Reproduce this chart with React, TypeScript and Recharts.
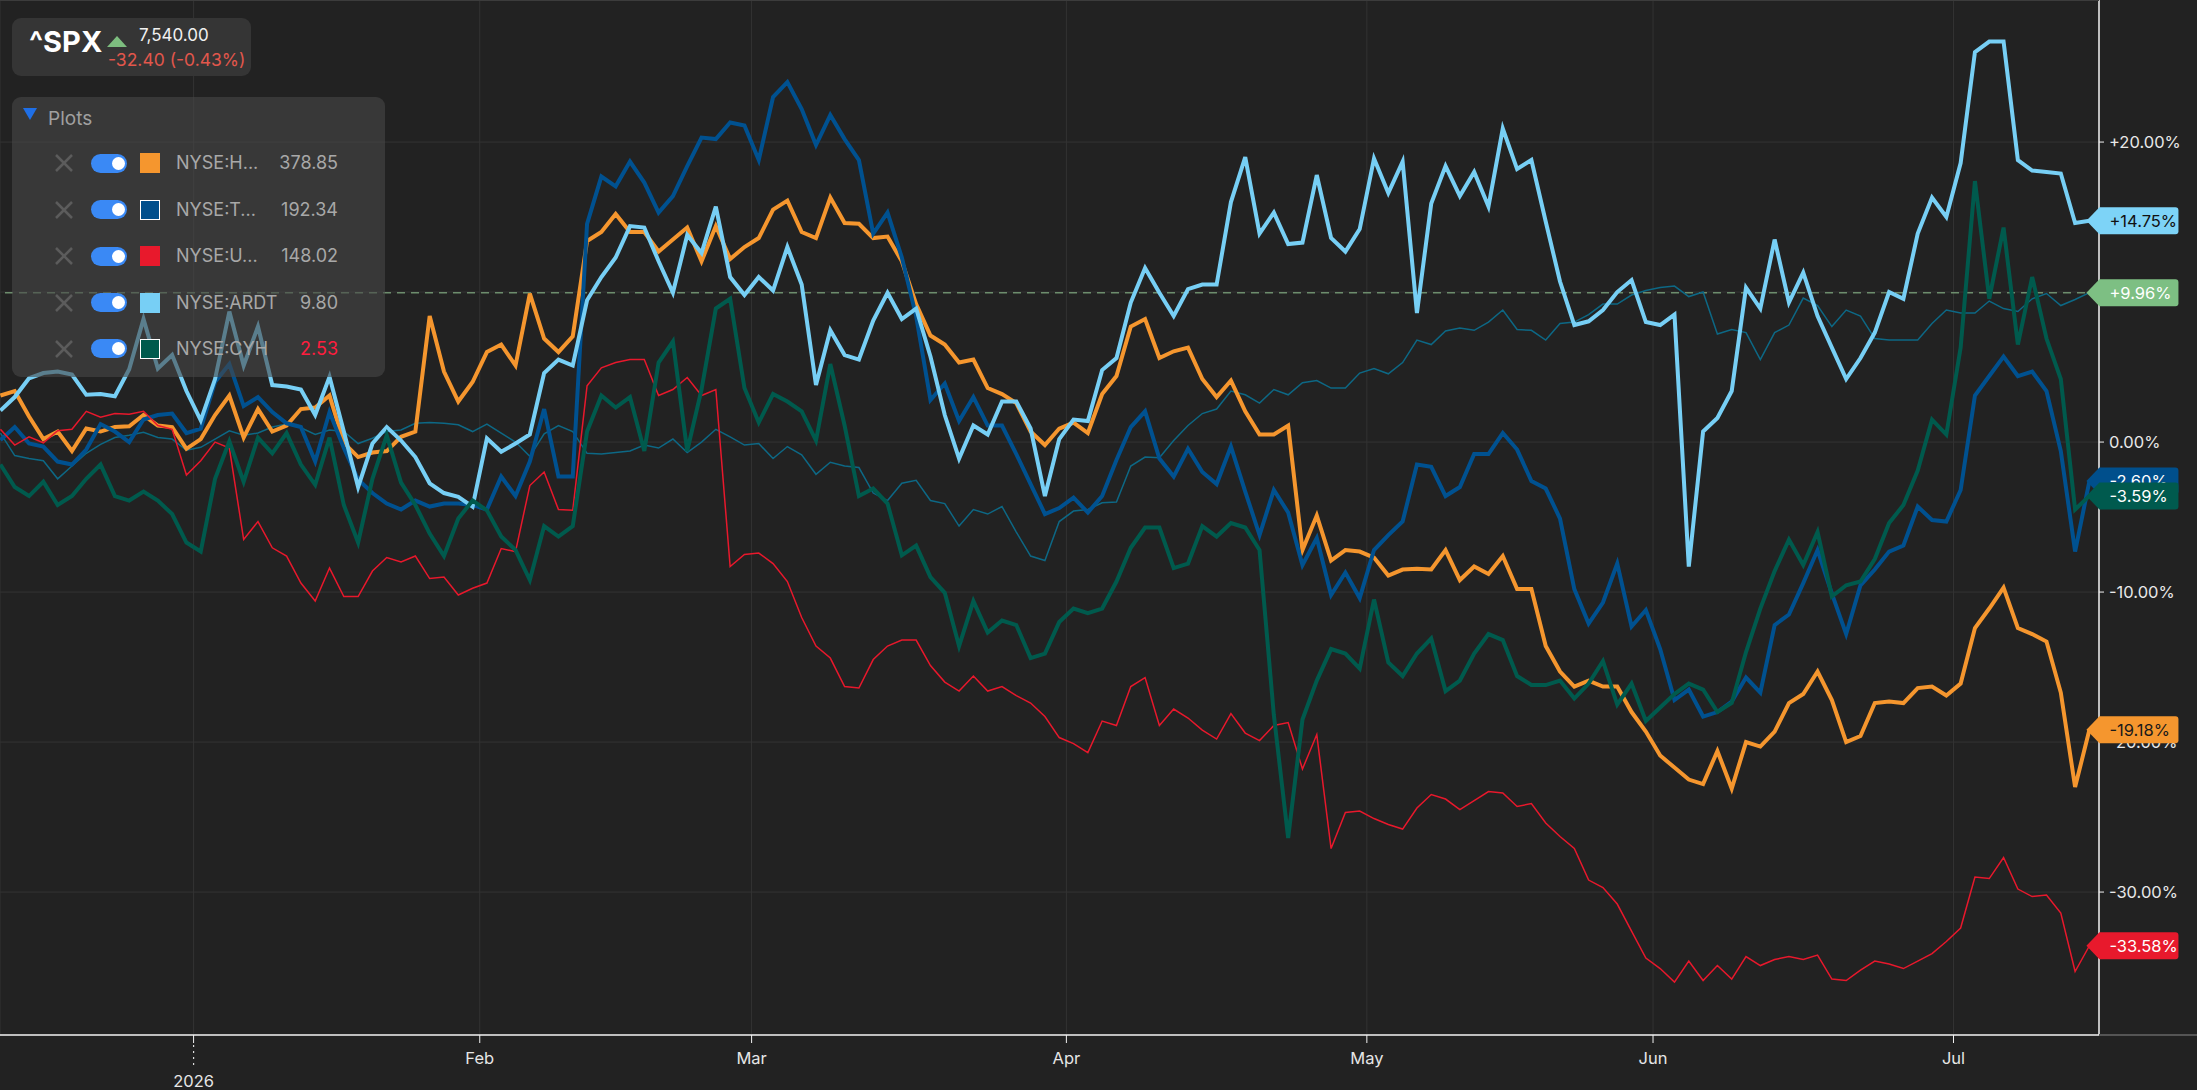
import React from "react";
import {
  LineChart,
  Line,
  XAxis,
  YAxis,
  CartesianGrid,
  ReferenceLine,
  LabelList,
} from "recharts";

const FONT = "Inter, 'Noto Sans', sans-serif";
const W = 2197;
const H = 1090;

// trading sessions shown on the chart
const DEC_2025 = [11, 12, 15, 16, 17, 18, 19, 22, 23, 24, 26, 29, 30, 31];
const JAN_2026 = [2, 5, 6, 7, 8, 9, 12, 13, 14, 15, 16, 20, 21, 22, 23, 26, 27, 28, 29, 30];
const FEB_2026 = [2, 3, 4, 5, 6, 9, 10, 11, 12, 13, 17, 18, 19, 20, 23, 24, 25, 26, 27];
const MAR_2026 = [2, 3, 4, 5, 6, 9, 10, 11, 12, 13, 16, 17, 18, 19, 20, 23, 24, 25, 26, 27, 30, 31];
const APR_2026 = [1, 2, 6, 7, 8, 9, 10, 13, 14, 15, 16, 17, 20, 21, 22, 23, 24, 27, 28, 29, 30];
const MAY_2026 = [1, 4, 5, 6, 7, 8, 11, 12, 13, 14, 15, 18, 19, 20, 21, 22, 26, 27, 28, 29];
const JUN_2026 = [1, 2, 3, 4, 5, 8, 9, 10, 11, 12, 15, 16, 17, 18, 22, 23, 24, 25, 26, 29, 30];
const JUL_2026 = [1, 2, 6, 7, 8, 9, 10, 13, 14, 15];

const MONTH_LABELS = ["2026", "Feb", "Mar", "Apr", "May", "Jun", "Jul"];
const Y_TICKS = [-30, -20, -10, 0, 10, 20];

// % change series
const HUM = [
  3.1, 3.4, 1.7, 0.2, 0.7, -0.6, 0.9, 0.7, 1.0, 1.05, 1.8, 1.1, 1.0, -0.45,
  0.2, 1.8, 3.1, 0.3, 2.2, 0.7, 1.1, 2.2, 2.3, 3.1,
  -0.05, -1.0, -0.7, -0.6, 0.35, 0.7, 8.4, 4.7, 2.7, 4.0,
  6.0, 6.5, 5.1, 9.9, 6.9, 6.0, 7.05, 13.4, 14.0, 15.2,
  14.0, 14.0, 12.7, 13.5, 14.3, 12.05, 14.4, 12.2, 13.0, 13.6,
  15.5, 16.1, 14.0, 13.6, 16.3, 14.6, 14.55, 13.6, 13.7, 12.05,
  9.2, 7.1, 6.5, 5.3, 5.5, 3.6, 3.2, 2.6, 0.7, -0.2,
  0.9, 1.3, 0.6, 3.2, 4.4, 7.7, 8.2, 5.6, 6.05, 6.3,
  4.2, 3.0, 4.1, 2.05, 0.5, 0.5, 1.1, -7.2, -4.9, -7.9,
  -7.2, -7.3, -7.7, -8.9, -8.5, -8.45, -8.5, -7.2, -9.2, -8.3,
  -8.8, -7.6, -9.8, -9.8, -13.6, -15.3, -16.3, -15.9, -16.3, -16.3,
  -18.0, -19.3, -20.9, -21.7, -22.5, -22.8, -20.6, -23.1, -20.0, -20.3,
  -19.3, -17.4, -16.8, -15.3, -17.2, -20.0, -19.6, -17.4, -17.3, -17.4,
  -16.4, -16.3, -16.9, -16.1, -12.4, -11.1, -9.7, -12.4, -12.8, -13.3,
  -16.7, -23.0, -19.18,
];

const TKR = [
  0.13, 1.0, -0.1, -0.3, -1.3, -1.5, -0.5, 1.2, 0.7, 0.0, 1.5, 1.8, 1.9, 0.6,
  0.9, 4.0, 5.2, 2.4, 3.0, 2.0, 1.25, 1.0, -1.3, 2.0,
  -0.4, -2.5, -3.4, -4.1, -4.5, -3.9, -4.3, -4.1, -4.1, -4.2,
  -4.5, -2.3, -3.6, -1.3, 2.2, -2.3, -2.3, 14.55, 17.7, 17.05,
  18.7, 17.3, 15.3, 16.4, 18.4, 20.3, 20.2, 21.3, 21.1, 18.8,
  23.0, 24.0, 22.2, 19.8, 21.8, 20.2, 18.8, 13.9, 15.3, 12.3,
  8.4, 2.8, 3.9, 1.4, 3.0, 1.1, 1.1, -0.8, -2.8, -4.8,
  -4.4, -3.7, -4.7, -3.6, -1.2, 1.0, 2.05, -1.1, -2.3, -0.45,
  -2.0, -2.8, -0.3, -3.3, -6.2, -3.2, -4.7, -8.2, -6.4, -10.2,
  -8.7, -10.4, -7.2, -6.2, -5.3, -1.5, -1.65, -3.6, -3.0, -0.8,
  -0.8, 0.6, -0.5, -2.6, -3.1, -5.1, -9.8, -12.1, -10.7, -8.1,
  -12.3, -11.2, -13.8, -17.2, -16.5, -18.3, -18.0, -17.3, -15.7, -16.7,
  -12.2, -11.5, -9.4, -7.2, -10.1, -12.8, -9.55, -8.5, -7.3, -6.9,
  -4.3, -5.2, -5.3, -3.2, 3.1, 4.4, 5.7, 4.4, 4.7, 3.4,
  -0.6, -7.3, -2.6,
];

const UNH = [
  0.85, -0.2, 0.35, -0.05, 0.75, 0.85, 2.05, 1.65, 1.9, 1.85, 2.05, 1.1, 0.85, -2.2,
  -1.25, 0.0, -0.4, -6.5, -5.3, -7.05, -7.6, -9.4, -10.6, -8.4,
  -10.3, -10.3, -8.6, -7.7, -8.0, -7.6, -9.1, -9.0, -10.2, -9.75,
  -9.4, -7.1, -7.3, -2.9, -2.0, -4.5, -4.55, 3.75, 4.95, 5.3,
  5.5, 5.5, 3.1, 3.5, 4.3, 3.1, 3.5, -8.3, -7.5, -7.4,
  -8.1, -9.3, -11.7, -13.6, -14.4, -16.3, -16.4, -14.5, -13.6, -13.2,
  -13.2, -14.9, -16.0, -16.6, -15.6, -16.6, -16.3, -16.9, -17.4, -18.3,
  -19.7, -20.1, -20.7, -18.6, -18.9, -16.3, -15.7, -18.9, -17.8, -18.4,
  -19.2, -19.8, -18.1, -19.4, -19.9, -18.9, -18.7, -21.8, -19.5, -27.1,
  -24.7, -24.6, -25.1, -25.5, -25.8, -24.4, -23.5, -23.8, -24.5, -23.9,
  -23.3, -23.4, -24.3, -24.1, -25.4, -26.3, -27.1, -29.2, -29.7, -30.8,
  -32.6, -34.4, -35.1, -36.0, -34.6, -35.9, -34.9, -35.8, -34.3, -34.9,
  -34.5, -34.3, -34.5, -34.2, -35.8, -35.9, -35.2, -34.6, -34.8, -35.1,
  -34.6, -34.1, -33.3, -32.4, -29.0, -29.1, -27.7, -29.8, -30.3, -30.2,
  -31.4, -35.3, -33.58,
];

const ARDT = [
  2.1, 3.0, 4.25, 4.6, 4.7, 4.5, 3.15, 3.2, 3.05, 4.85, 8.2, 4.9, 5.8, 3.4,
  1.45, 4.2, 8.7, 5.1, 7.7, 3.8, 3.7, 3.5, 1.8, 4.35,
  0.7, -3.0, -0.1, 1.0, 0.1, -1.0, -2.75, -3.4, -3.65, -4.3,
  0.25, -0.65, -0.1, 0.5, 4.6, 5.5, 5.1, 9.45, 11.0, 12.3,
  14.4, 14.3, 12.05, 9.95, 13.8, 12.6, 15.7, 11.0, 9.8, 11.0,
  10.1, 13.0, 10.5, 3.8, 7.45, 5.8, 5.5, 8.1, 9.95, 8.2,
  8.9, 5.7, 1.8, -1.1, 1.1, 0.5, 2.7, 2.7, 0.9, -3.6,
  0.2, 1.5, 1.4, 4.8, 5.6, 9.3, 11.6, 9.95, 8.4, 10.2,
  10.5, 10.5, 16.0, 19.0, 13.9, 15.3, 13.2, 13.3, 17.8, 13.6,
  12.7, 14.2, 18.9, 16.6, 18.7, 8.6, 15.9, 18.4, 16.4, 18.0,
  15.7, 20.9, 18.2, 18.8, 14.7, 10.7, 7.8, 8.05, 8.8, 10.0,
  10.8, 8.0, 7.8, 8.5, -8.3, 0.7, 1.6, 3.4, 10.3, 8.9,
  13.5, 9.3, 11.3, 8.4, 6.3, 4.2, 5.6, 7.3, 10.0, 9.55,
  13.9, 16.3, 15.0, 18.6, 26.0, 26.7, 26.7, 18.8, 18.1, 18.0,
  17.9, 14.6, 14.75,
];

const CYH = [
  -1.5, -3.0, -3.6, -2.65, -4.2, -3.6, -2.45, -1.5, -3.6, -3.9, -3.3, -3.9, -4.8, -6.7,
  -7.3, -2.45, 0.05, -2.65, 0.3, -0.75, 0.6, -1.5, -2.85, 0.3,
  -4.2, -6.7, -2.45, 0.45, -2.7, -4.2, -6.1, -7.6, -5.1, -3.9,
  -4.55, -6.3, -7.2, -9.2, -5.6, -6.3, -5.6, 0.7, 3.1, 2.3,
  3.0, -0.6, 5.3, 6.7, -0.6, 3.5, 8.9, 9.55, 3.6, 1.3,
  3.2, 2.7, 2.05, 0.1, 5.2, 1.1, -3.6, -3.1, -4.1, -7.55,
  -6.9, -9.0, -10.05, -13.6, -10.6, -12.7, -11.9, -12.2, -14.4, -14.1,
  -12.0, -11.1, -11.4, -11.1, -9.3, -7.05, -5.7, -5.7, -8.4, -8.1,
  -5.6, -6.3, -5.4, -5.7, -7.2, -18.2, -26.4, -18.5, -15.9, -13.8,
  -14.1, -15.1, -10.5, -14.7, -15.6, -14.1, -13.1, -16.6, -15.9, -14.1,
  -12.8, -13.2, -15.6, -16.2, -16.2, -15.9, -17.1, -16.1, -14.6, -17.5,
  -16.1, -18.6, -17.7, -16.8, -16.1, -16.5, -18.0, -17.4, -14.0, -11.1,
  -8.6, -6.5, -8.2, -6.0, -10.3, -9.55, -9.3, -7.8, -5.4, -4.2,
  -1.9, 1.5, 0.5, 6.3, 17.4, 9.55, 14.3, 6.5, 11.0, 6.9,
  4.2, -4.5, -3.59,
];

const SPX = [
  0.6, -0.9, -1.1, -1.25, -2.45, -1.6, -0.75, -0.15, 0.3, 0.45, 0.65, 0.3, 0.2, -0.55,
  -0.35, 0.2, 0.75, 0.45, 0.6, 1.0, 1.2, 0.95, 0.5, 0.8,
  0.7, -0.1, 0.25, 0.7, 0.8, 1.25, 1.3, 1.25, 1.15, 0.7,
  1.2, 0.6, 0.0, -0.95, 0.55, 1.1, 0.7, -0.75, -0.8, -0.7,
  -0.6, -0.2, -0.4, 0.2, -0.7, 0.0, 0.85, 0.35, -0.2, -0.1,
  -1.1, -0.3, -0.85, -2.15, -1.35, -1.6, -1.7, -3.4, -3.9, -2.75,
  -2.55, -3.9, -4.1, -5.6, -4.5, -4.8, -4.3, -6.0, -7.6, -7.9,
  -5.3, -4.6, -4.5, -4.05, -4.0, -1.6, -1.0, -1.05, 0.1, 1.1,
  1.9, 2.2, 3.4, 3.15, 2.6, 3.5, 3.15, 3.95, 4.1, 3.6,
  3.6, 4.6, 4.9, 4.55, 5.3, 6.8, 6.5, 7.4, 7.6, 7.45,
  8.0, 8.8, 7.5, 7.45, 6.8, 7.9, 8.0, 8.5, 9.2, 9.2,
  9.8, 10.1, 10.3, 10.4, 9.7, 10.0, 7.2, 7.5, 7.3, 5.5,
  7.3, 7.8, 9.6, 9.1, 7.7, 8.8, 8.4, 6.9, 6.8, 6.8,
  6.8, 7.9, 8.8, 8.6, 8.6, 9.4, 8.9, 8.7, 9.55, 9.9,
  9.1, 9.5, 9.96,
];

const SESSIONS: [string, number[]][] = [
  ["2025-12", DEC_2025],
  ["2026-01", JAN_2026],
  ["2026-02", FEB_2026],
  ["2026-03", MAR_2026],
  ["2026-04", APR_2026],
  ["2026-05", MAY_2026],
  ["2026-06", JUN_2026],
  ["2026-07", JUL_2026],
];

const DATES = SESSIONS.flatMap(([ym, days]) =>
  days.map((d) => `${ym}-${String(d).padStart(2, "0")}`)
);

const data = DATES.map((date, i) => ({
  i,
  date,
  hum: HUM[i],
  tkr: TKR[i],
  unh: UNH[i],
  ardt: ARDT[i],
  cyh: CYH[i],
  spx: SPX[i],
}));

const LAST = DATES.length - 1;

// month gridlines sit half a session before the first session of the month
const MONTH_TICKS = SESSIONS.slice(1).map(
  ([ym]) => DATES.findIndex((d) => d.startsWith(ym)) - 0.5
);

const X_DOMAIN = [-0.03, 146.67];
const Y_DOMAIN = [-39.53, 29.47];

const fmtPct = (v: number) =>
  v > 0 ? `+${v.toFixed(2)}%` : `${v.toFixed(2)}%`;

function MonthTick(props: any) {
  const { x, y, payload } = props;
  const k = MONTH_TICKS.indexOf(payload.value);
  const label = MONTH_LABELS[k];
  if (k === 0) {
    return (
      <g>
        <line x1={x} x2={x} y1={y + 2} y2={y + 24} stroke="#ddd" strokeWidth={1.2} strokeDasharray="2 4" />
        <text x={x} y={y + 44} textAnchor="middle" fill="#e6e6e6" fontSize={16.5} fontFamily={FONT}>
          {label}
        </text>
      </g>
    );
  }
  return (
    <text x={x} y={y + 21} textAnchor="middle" fill="#e6e6e6" fontSize={16.5} fontFamily={FONT}>
      {label}
    </text>
  );
}

function endTag(bg: string, fg: string) {
  return (props: any) => {
    const px = props.x ?? props.viewBox?.x;
    const py = props.y ?? props.viewBox?.y;
    const idx = props.index;
    if (idx !== undefined ? idx !== LAST : px < 2080) return null;
    const tip = px - 3;
    const l = px + 10;
    const r = px + 89;
    const t = py - 13.5;
    const b = py + 13.5;
    const d = `M${tip},${py} L${l},${t} L${r - 3},${t} Q${r},${t} ${r},${t + 3} L${r},${b - 3} Q${r},${b} ${r - 3},${b} L${l},${b} Z`;
    return (
      <g>
        <path d={d} fill={bg} />
        <text x={px + 20} y={py} dy="0.36em" fill={fg} fontSize={16.5} fontFamily={FONT}>
          {fmtPct(props.value)}
        </text>
      </g>
    );
  };
}

const LEGEND_ROWS = [
  { name: "NYSE:H...", value: "378.85", color: "#f5962e", border: false, valueColor: "#a8a8a8" },
  { name: "NYSE:T...", value: "192.34", color: "#004f8c", border: true, valueColor: "#a8a8a8" },
  { name: "NYSE:U...", value: "148.02", color: "#e8192c", border: false, valueColor: "#a8a8a8" },
  { name: "NYSE:ARDT", value: "9.80", color: "#77cff5", border: false, valueColor: "#a8a8a8" },
  { name: "NYSE:CYH", value: "2.53", color: "#005a4d", border: true, valueColor: "#ff1d3e" },
];

function Header() {
  return (
    <div style={{ position: "absolute", left: 12, top: 18, width: 239, height: 58, borderRadius: 9, background: "#353535", fontFamily: FONT }}>
      <span style={{ position: "absolute", left: 17, top: 9, fontSize: 29, lineHeight: "29px", fontWeight: 700, color: "#fff" }}>^SPX</span>
      <div style={{ position: "absolute", left: 95, top: 18, width: 0, height: 0, borderLeft: "10.5px solid transparent", borderRight: "10.5px solid transparent", borderBottom: "11px solid #7dbd7f" }} />
      <span style={{ position: "absolute", left: 127, top: 8.5, fontSize: 17, lineHeight: "17px", color: "#f0f0f0" }}>7,540.00</span>
      <span style={{ position: "absolute", left: 96, top: 33, fontSize: 17.5, lineHeight: "17.5px", color: "#e2574c" }}>-32.40 (-0.43%)</span>
    </div>
  );
}

function Plots() {
  return (
    <div style={{ position: "absolute", left: 12, top: 97, width: 373, height: 280, borderRadius: 9, background: "rgba(71,71,71,0.6)", fontFamily: FONT }}>
      <div style={{ position: "absolute", left: 11, top: 11, width: 0, height: 0, borderLeft: "7px solid transparent", borderRight: "7px solid transparent", borderTop: "12px solid #1f6fe6" }} />
      <span style={{ position: "absolute", left: 36, top: 11.5, fontSize: 19, lineHeight: "19px", color: "#a0a0a0" }}>Plots</span>
      {LEGEND_ROWS.map((row, k) => {
        const cy = 163.3 + 46.4 * k - 97;
        return (
          <div key={row.name}>
            <svg style={{ position: "absolute", left: 43, top: cy - 9 }} width={18} height={18}>
              <line x1={1} y1={1} x2={17} y2={17} stroke="#5c5c5c" strokeWidth={2.5} />
              <line x1={17} y1={1} x2={1} y2={17} stroke="#5c5c5c" strokeWidth={2.5} />
            </svg>
            <div style={{ position: "absolute", left: 79, top: cy - 9.5, width: 36, height: 19, borderRadius: 10, background: "#3a89f5" }}>
              <div style={{ position: "absolute", left: 20.5, top: 3, width: 13, height: 13, borderRadius: 7, background: "#fff" }} />
            </div>
            <div style={{ position: "absolute", left: 128, top: cy - 10, width: 20, height: 20, boxSizing: "border-box", background: row.color, border: row.border ? "1.5px solid #fff" : "none" }} />
            <span style={{ position: "absolute", left: 164, top: cy - 9, fontSize: 18, lineHeight: "18px", color: "#a8a8a8" }}>{row.name}</span>
            <span style={{ position: "absolute", right: 47, top: cy - 9, fontSize: 18, lineHeight: "18px", color: row.valueColor }}>{row.value}</span>
          </div>
        );
      })}
    </div>
  );
}

export default function App() {
  return (
    <div style={{ position: "fixed", left: 0, top: 0, width: W, height: H, background: "#222", overflow: "hidden" }}>
      <LineChart width={W} height={H} data={data} margin={{ top: 0, right: 0, bottom: 0, left: 0 }}>
        <CartesianGrid stroke="#333" strokeWidth={1} />
        <XAxis
          type="number"
          dataKey="i"
          domain={X_DOMAIN}
          allowDataOverflow
          ticks={MONTH_TICKS}
          interval={0}
          height={55}
          tickSize={8}
          tickMargin={0}
          axisLine={{ stroke: "#f2f2f2", strokeWidth: 1.5 }}
          tickLine={{ stroke: "#f2f2f2" }}
          tick={<MonthTick />}
        />
        <YAxis
          orientation="right"
          type="number"
          domain={Y_DOMAIN}
          allowDataOverflow
          ticks={Y_TICKS}
          interval={0}
          width={98}
          tickSize={5}
          tickMargin={5}
          axisLine={{ stroke: "#f2f2f2", strokeWidth: 1.5 }}
          tickLine={{ stroke: "#f2f2f2" }}
          tick={{ fill: "#e8e8e8", fontSize: 16.5, fontFamily: FONT }}
          tickFormatter={fmtPct}
        />
        <ReferenceLine y={9.96} stroke="#6d8d6d" strokeWidth={1.5} strokeDasharray="8 6" />
        <Line type="linear" dataKey="spx" stroke="#0d6885" strokeWidth={1.5} dot={false} activeDot={false} isAnimationActive={false}>
          <LabelList dataKey="spx" content={endTag("#7dbf83", "#fff")} />
        </Line>
        <Line type="linear" dataKey="hum" stroke="#f5962e" strokeWidth={4} dot={false} activeDot={false} isAnimationActive={false}>
          <LabelList dataKey="hum" content={endTag("#f5962e", "#1a1a1a")} />
        </Line>
        <Line type="linear" dataKey="tkr" stroke="#005190" strokeWidth={4} dot={false} activeDot={false} isAnimationActive={false}>
          <LabelList dataKey="tkr" content={endTag("#004f8c", "#fff")} />
        </Line>
        <Line type="linear" dataKey="unh" stroke="#e8182c" strokeWidth={1.5} dot={false} activeDot={false} isAnimationActive={false}>
          <LabelList dataKey="unh" content={endTag("#e8192c", "#fff")} />
        </Line>
        <Line type="linear" dataKey="ardt" stroke="#77cff5" strokeWidth={4} dot={false} activeDot={false} isAnimationActive={false}>
          <LabelList dataKey="ardt" content={endTag("#7dd3f7", "#111")} />
        </Line>
        <Line type="linear" dataKey="cyh" stroke="#005a4d" strokeWidth={4} dot={false} activeDot={false} isAnimationActive={false}>
          <LabelList dataKey="cyh" content={endTag("#005a4e", "#fff")} />
        </Line>
      </LineChart>
      <div style={{ position: "absolute", left: 0, top: 0, width: 2099, height: 1, background: "#3c3c3c" }} />
      <div style={{ position: "absolute", left: 2099, top: 1034, width: 98, height: 1.5, background: "#555" }} />
      <Header />
      <Plots />
    </div>
  );
}
